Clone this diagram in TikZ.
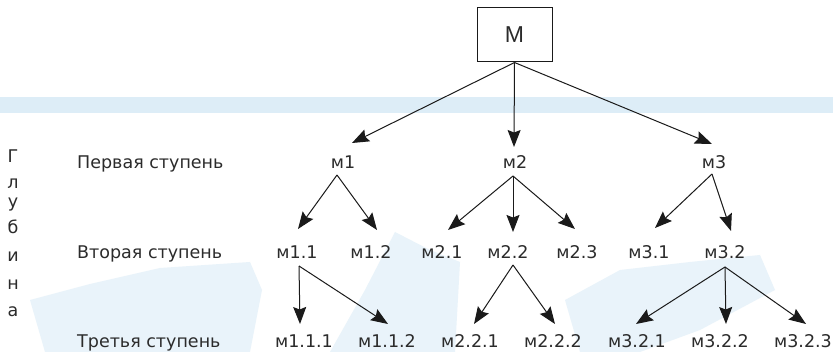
\documentclass[tikz,border=0pt]{standalone}
\usepackage{fontspec}
\setmainfont{DejaVu Sans}
\newfontfamily\mfont{Liberation Sans}
\usetikzlibrary{arrows.meta}
\definecolor{txt}{HTML}{2B2B2B}
\definecolor{ln}{HTML}{1A1A1A}
\definecolor{band}{HTML}{DDEDF7}
\definecolor{wm}{HTML}{E9F3FA}
\begin{document}
\begin{tikzpicture}[x=1pt,y=-1pt,
  lbl/.style={font=\fontsize{17.5}{17.5}\selectfont, text=txt, inner sep=0pt, anchor=base},
  side/.style={font=\fontsize{17.5}{17.5}\selectfont, text=txt, inner sep=0pt, anchor=base west},
  vlet/.style={font=\fontsize{17.5}{17.5}\selectfont, text=txt, inner sep=0pt, anchor=base},
  arr/.style={draw=ln, line width=1pt, -{Stealth[length=17pt,width=13pt,inset=2.5pt]}}]
\useasboundingbox (0,0) rectangle (833,352);
\fill[white] (0,0) rectangle (833,352);
% background
\fill[band] (0,97) rectangle (833,113);
\fill[wm] (30,300) -- (90,284) -- (160,268) -- (250,262) -- (262,290) -- (250,352) -- (45,352) -- cycle;
\fill[wm] (330,352) -- (365,290) -- (395,232) -- (430,250) -- (460,262) -- (455,352) -- cycle;
\fill[wm] (565,300) -- (620,270) -- (690,262) -- (760,255) -- (775,290) -- (700,330) -- (640,352) -- (580,352) -- cycle;
% root
\node[draw=ln, line width=1pt, minimum width=75pt, minimum height=54pt, inner sep=0pt,
      font=\mfont\fontsize{23}{23}\selectfont, text=txt] (M) at (514.5,35) {M};
% side labels
\node[side] (l1) at (77,169) {Первая ступень};
\node[side] (l2) at (77,259) {Вторая ступень};
\node[side] (l3) at (77,348) {Третья ступень};
% vertical word
\foreach \ch/\yy/\nm in {Г/163/g1, л/189/g2, у/208/g3, б/234/g4, и/262/g5, н/290/g6, а/317/g7}
  \node[vlet] (\nm) at (13,\yy) {\ch};
% level 1
\node[lbl] (m1) at (343,169) {м1};
\node[lbl] (m2) at (515,169) {м2};
\node[lbl] (m3) at (714,169) {м3};
% level 2
\node[lbl] (m11) at (297,259) {м1.1};
\node[lbl] (m12) at (371,259) {м1.2};
\node[lbl] (m21) at (442,259) {м2.1};
\node[lbl] (m22) at (508,259) {м2.2};
\node[lbl] (m23) at (577,259) {м2.3};
\node[lbl] (m31) at (649,259) {м3.1};
\node[lbl] (m32) at (725,259) {м3.2};
% level 3
\node[lbl] (m111) at (304,348) {м1.1.1};
\node[lbl] (m112) at (387,348) {м1.1.2};
\node[lbl] (m221) at (470,348) {м2.2.1};
\node[lbl] (m222) at (553,348) {м2.2.2};
\node[lbl] (m321) at (637,348) {м3.2.1};
\node[lbl] (m322) at (720,348) {м3.2.2};
\node[lbl] (m323) at (803,348) {м3.2.3};
% arrows
\draw[arr] (M.south) -- ([shift={(9,-26)}]m1.base);
\draw[arr] (M.south) -- ([shift={(-1,-22)}]m2.base);
\draw[arr] (M.south) -- ([shift={(-2,-25)}]m3.base);
\draw[arr] ([shift={(-6,6)}]m1.base) -- ([shift={(1,-30)}]m11.base);
\draw[arr] ([shift={(-6,6)}]m1.base) -- ([shift={(6,-29)}]m12.base);
\draw[arr] ([shift={(-2,7)}]m2.base) -- ([shift={(6,-29)}]m21.base);
\draw[arr] ([shift={(-2,7)}]m2.base) -- ([shift={(5,-27)}]m22.base);
\draw[arr] ([shift={(-2,7)}]m2.base) -- ([shift={(-2,-30)}]m23.base);
\draw[arr] ([shift={(-2,5)}]m3.base) -- ([shift={(6,-31)}]m31.base);
\draw[arr] ([shift={(-2,5)}]m3.base) -- ([shift={(6,-28)}]m32.base);
\draw[arr] ([shift={(2,7)}]m11.base) -- ([shift={(-4,-24)}]m111.base);
\draw[arr] ([shift={(2,7)}]m11.base) -- ([shift={(1,-24)}]m112.base);
\draw[arr] ([shift={(5,6)}]m22.base) -- ([shift={(4,-24)}]m221.base);
\draw[arr] ([shift={(5,6)}]m22.base) -- ([shift={(2,-24)}]m222.base);
\draw[arr] ([shift={(0,8)}]m32.base) -- ([shift={(-1,-24)}]m321.base);
\draw[arr] ([shift={(0,8)}]m32.base) -- ([shift={(6,-24)}]m322.base);
\draw[arr] ([shift={(0,8)}]m32.base) -- ([shift={(3,-24)}]m323.base);
\end{tikzpicture}
\end{document}
